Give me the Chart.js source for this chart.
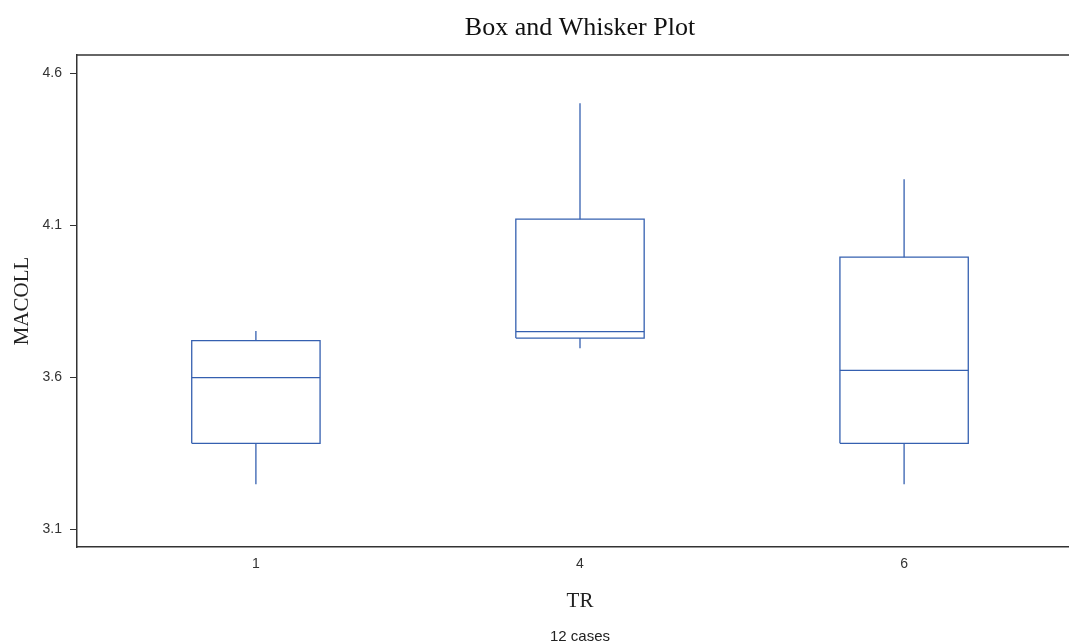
<!DOCTYPE html>
<html>
<head>
<meta charset="utf-8">
<title>Box and Whisker Plot</title>
<script src="https://cdn.jsdelivr.net/npm/chart.js@4"></script>
<style>
  html, body { margin: 0; padding: 0; background: #fff; overflow: hidden; }
  #wrap { width: 1069px; height: 643px; overflow: hidden; }
  canvas { display: block; }
</style>
</head>
<body>
<div id="wrap"><canvas id="chart" width="1083" height="643"></canvas></div>
<script>
// Treatment groups (TR) and the five-number summary of MACOLL per group
const categories  = ['1', '4', '6'];
const whiskerLow  = [3.248, 3.696, 3.248];
const quartile1   = [3.383, 3.729, 3.383];
const medians     = [3.599, 3.750, 3.623];
const quartile3   = [3.721, 4.120, 3.995];
const whiskerHigh = [3.752, 4.501, 4.251];
const yTickValues = [3.1, 3.6, 4.1, 4.6];
const caseCount = 12;

const BOX_COLOR = '#3560b0';
const AXIS_COLOR = '#333333';
const HALF_WIDTH = 0.198;   // half box width, in category units

// Build line segments (box outline, median, whiskers) for each group
const datasets = [];
categories.forEach((cat, i) => {
  const seg = (pts) => datasets.push({
    label: cat,
    data: pts,
    showLine: true,
    borderColor: BOX_COLOR,
    borderWidth: 1.3,
    pointRadius: 0,
    pointHoverRadius: 0,
    fill: false,
    tension: 0
  });
  const l = i - HALF_WIDTH, r = i + HALF_WIDTH;
  seg([{x: l, y: quartile1[i]}, {x: r, y: quartile1[i]}, {x: r, y: quartile3[i]},
       {x: l, y: quartile3[i]}, {x: l, y: quartile1[i]}]);
  seg([{x: l, y: medians[i]}, {x: r, y: medians[i]}]);
  seg([{x: i, y: quartile3[i]}, {x: i, y: whiskerHigh[i]}]);
  seg([{x: i, y: whiskerLow[i]}, {x: i, y: quartile1[i]}]);
});

// Top edge of the plot frame
const frameTop = {
  id: 'frameTop',
  afterDraw(chart) {
    const {ctx, chartArea} = chart;
    ctx.save();
    ctx.strokeStyle = AXIS_COLOR;
    ctx.lineWidth = 1.5;
    ctx.beginPath();
    ctx.moveTo(chartArea.left, chartArea.top);
    ctx.lineTo(chartArea.right, chartArea.top);
    ctx.stroke();
    ctx.restore();
  }
};

new Chart(document.getElementById('chart'), {
  type: 'scatter',
  data: { datasets },
  plugins: [frameTop],
  options: {
    responsive: false,
    animation: false,
    devicePixelRatio: 1,
    layout: { padding: 0 },
    plugins: {
      legend: { display: false },
      tooltip: { enabled: false },
      title: {
        display: true,
        text: 'Box and Whisker Plot',
        fullSize: false,
        color: '#111111',
        font: { family: 'Liberation Serif', size: 26, weight: 'normal', lineHeight: 1.2 },
        padding: { top: 12.4, bottom: 11.4 }
      },
      subtitle: {
        display: true,
        position: 'bottom',
        text: caseCount + ' cases',
        fullSize: false,
        color: '#222222',
        font: { family: 'Liberation Sans', size: 15, lineHeight: '12px' },
        padding: 0
      }
    },
    scales: {
      x: {
        type: 'linear',
        position: 'bottom',
        min: -0.552,
        max: 2.552,
        afterBuildTicks: (scale) => {
          scale.ticks = categories.map((c, i) => ({ value: i }));
        },
        afterFit: (scale) => { scale.height = 84; },
        ticks: {
          callback: (v) => categories[v],
          color: '#333333',
          font: { family: 'Liberation Sans', size: 14 },
          padding: 9,
          maxRotation: 0,
          autoSkip: false
        },
        grid: { display: true, drawOnChartArea: false, drawTicks: false },
        border: { display: true, color: AXIS_COLOR, width: 1.5 },
        title: {
          display: true,
          text: 'TR',
          color: '#222222',
          font: { family: 'Liberation Serif', size: 21, lineHeight: 1.2 },
          padding: { top: 0, bottom: 16.5 }
        }
      },
      y: {
        type: 'linear',
        position: 'left',
        min: 3.042,
        max: 4.66,
        afterBuildTicks: (scale) => {
          scale.ticks = yTickValues.map(v => ({ value: v }));
        },
        afterFit: (scale) => { scale.width = 77; },
        ticks: {
          callback: (v) => v.toFixed(1),
          color: '#333333',
          font: { family: 'Liberation Sans', size: 14 },
          padding: 8
        },
        grid: {
          display: true,
          drawOnChartArea: false,
          drawTicks: true,
          tickLength: 7,
          tickColor: AXIS_COLOR,
          tickWidth: 1
        },
        border: { display: true, color: AXIS_COLOR, width: 1.5 },
        title: {
          display: true,
          text: 'MACOLL',
          color: '#222222',
          font: { family: 'Liberation Serif', size: 21, lineHeight: 1.2 },
          padding: { top: 9.4, bottom: 0 }
        }
      }
    }
  }
});
</script>
</body>
</html>
